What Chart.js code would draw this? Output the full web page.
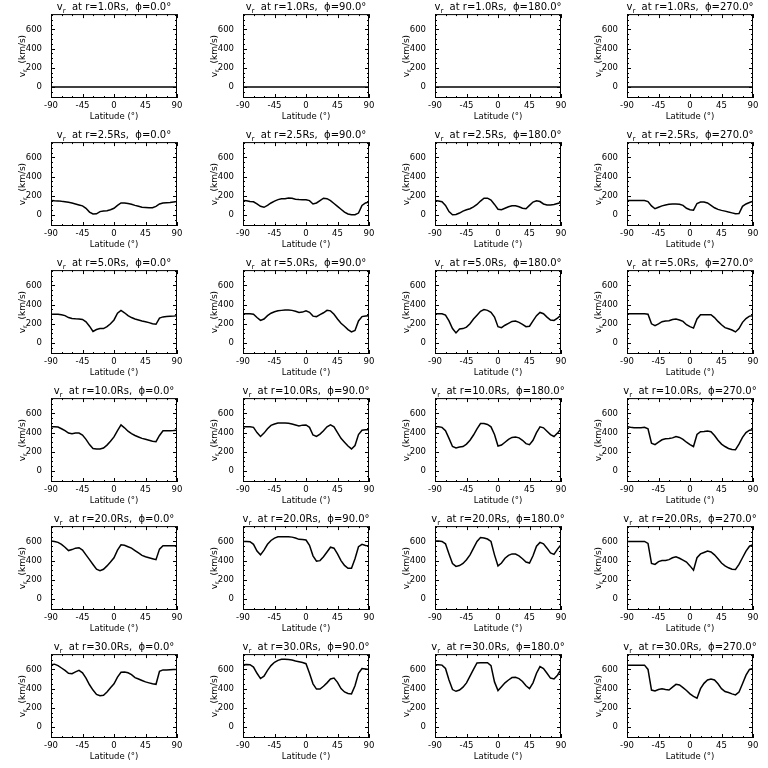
<!DOCTYPE html>
<html>
<head>
<meta charset="utf-8">
<script src="https://cdn.jsdelivr.net/npm/chart.js@4/dist/chart.umd.min.js"></script>
<style>
  body { margin: 0; background: #fff; }
  #grid { display: grid; grid-template-columns: repeat(4, 192px); grid-template-rows: repeat(6, 128px); width: 768px; height: 768px; }
  .cell { width: 192px; height: 128px; }
</style>
</head>
<body>
<div id="grid"></div>
<script>
const lat = [-90,-85,-80,-75,-70,-65,-60,-55,-50,-45,-40,-35,-30,-25,-20,-15,-10,-5,0,5,10,15,20,25,30,35,40,45,50,55,60,65,70,75,80,85,90];
const radii = ['1.0', '2.5', '5.0', '10.0', '20.0', '30.0'];
const phis = ['0.0', '90.0', '180.0', '270.0'];
const xTicks = [-90, -45, 0, 45, 90];
const yTicks = [0, 200, 400, 600];

// r = 1.0 Rs : flat at zero for every phi
const vr_1 = [0,0,0,0,0,0,0,0,0,0,0,0,0,0,0,0,0,0,0,0,0,0,0,0,0,0,0,0,0,0,0,0,0,0,0,0,0];

const vr_2p5_p0   = [150,148,147,142,138,132,125,115,105,95,70,30,10,12,35,42,45,55,70,100,125,125,120,112,100,90,80,78,75,75,90,115,125,128,130,135,140];
const vr_2p5_p90  = [150,148,140,138,115,90,80,100,125,145,160,168,170,178,175,165,162,160,158,150,115,125,150,175,170,150,120,90,60,30,10,2,2,20,100,125,135];
const vr_2p5_p180 = [150,145,138,100,35,2,5,20,40,55,65,85,110,145,175,175,155,110,60,55,70,85,95,95,85,70,65,100,135,148,140,115,105,105,110,120,130];
const vr_2p5_p270 = [150,150,150,150,150,150,140,95,65,80,95,105,112,115,115,112,100,70,55,50,120,135,135,125,100,75,58,48,40,30,22,12,15,90,115,130,145];

const vr_5_p0   = [300,300,300,295,285,265,255,252,250,245,220,175,120,140,150,150,170,200,240,310,340,315,285,265,250,240,230,222,212,200,195,260,272,275,278,280,285];
const vr_5_p90  = [305,305,305,300,265,235,250,285,310,325,335,340,345,345,340,330,318,322,335,320,280,275,295,315,340,335,300,250,205,175,140,115,130,230,275,282,285];
const vr_5_p180 = [305,305,305,290,230,150,105,145,150,165,200,250,290,330,348,340,320,270,170,160,185,205,225,228,215,195,170,175,230,285,318,305,270,240,235,260,290];
const vr_5_p270 = [305,305,305,305,305,305,300,200,180,200,222,228,232,245,250,240,225,190,170,155,250,295,295,295,295,265,225,190,160,148,135,115,150,215,255,280,285];

const vr_10_p0   = [460,460,458,440,420,395,388,395,395,375,330,275,235,230,230,240,270,310,355,420,480,450,415,390,370,355,340,330,320,310,305,370,420,420,420,422,425];
const vr_10_p90  = [460,460,460,455,400,360,395,440,475,490,500,500,500,498,490,480,470,478,480,455,375,360,385,420,460,480,460,400,340,300,260,230,265,380,425,430,430];
const vr_10_p180 = [460,460,455,420,340,255,240,250,255,280,320,375,440,495,495,485,460,380,260,270,300,330,350,355,345,320,285,275,320,400,460,450,415,380,360,395,440];
const vr_10_p270 = [460,455,452,450,452,455,440,290,275,300,325,335,338,345,360,350,330,300,275,255,380,410,412,418,410,370,320,280,255,235,225,222,280,350,400,425,430];

const vr_20_p0   = [605,600,590,570,540,505,515,530,535,510,460,410,360,310,295,310,345,385,430,510,565,560,545,530,505,480,455,440,430,420,410,520,555,555,555,555,555];
const vr_20_p90  = [600,600,598,570,500,460,510,570,610,635,648,650,650,650,645,635,622,620,615,560,450,395,400,440,490,540,530,470,400,350,320,320,420,545,570,558,555];
const vr_20_p180 = [605,605,600,575,470,370,340,348,370,410,460,530,600,640,635,625,600,460,345,375,425,455,470,468,450,420,385,375,450,550,590,575,530,480,465,520,565];
const vr_20_p270 = [600,600,600,600,600,600,580,370,360,390,400,402,410,430,440,425,405,385,345,300,430,470,485,500,490,460,420,375,345,325,310,308,360,430,500,550,565];

const vr_30_p0   = [650,655,640,615,590,560,555,575,590,565,510,440,385,340,325,330,365,410,450,520,570,572,565,545,515,500,485,470,460,450,445,580,595,595,598,600,600];
const vr_30_p90  = [650,652,650,625,560,505,530,590,640,675,695,705,705,703,698,688,680,672,660,560,450,395,395,425,460,500,510,465,400,365,350,345,430,560,610,605,600];
const vr_30_p180 = [650,650,645,610,490,390,372,385,415,460,530,600,668,670,670,670,640,470,380,420,460,490,515,518,505,475,430,400,460,560,630,610,560,510,500,540,600];
const vr_30_p270 = [645,645,645,645,645,645,600,385,375,390,398,390,385,415,445,438,410,380,345,320,300,400,455,490,500,490,450,400,370,360,345,335,365,450,540,600,610];

const panels = [
  [vr_1, vr_1, vr_1, vr_1],
  [vr_2p5_p0, vr_2p5_p90, vr_2p5_p180, vr_2p5_p270],
  [vr_5_p0, vr_5_p90, vr_5_p180, vr_5_p270],
  [vr_10_p0, vr_10_p90, vr_10_p180, vr_10_p270],
  [vr_20_p0, vr_20_p90, vr_20_p180, vr_20_p270],
  [vr_30_p0, vr_30_p90, vr_30_p180, vr_30_p270]
];

const FONT = 'DejaVu Sans';

// text "v" with subscript "r" followed by the rest, centred at x
function subText(ctx, x, y, rest, size) {
  ctx.font = `${size}px ${FONT}`;
  const w1 = ctx.measureText('v').width;
  const w3 = ctx.measureText(rest).width;
  ctx.font = `${size * 0.7}px ${FONT}`;
  const w2 = ctx.measureText('r').width;
  let x0 = x - (w1 + w2 + w3) / 2;
  ctx.textAlign = 'left';
  ctx.font = `${size}px ${FONT}`;
  ctx.fillText('v', x0, y);
  ctx.font = `${size * 0.7}px ${FONT}`;
  ctx.fillText('r', x0 + w1, y + size * 0.25);
  ctx.font = `${size}px ${FONT}`;
  ctx.fillText(rest, x0 + w1 + w2, y);
}

const framePlugin = {
  id: 'frame',
  afterDraw(chart, args, opts) {
    const ctx = chart.ctx;
    const a = chart.chartArea;
    const xs = chart.scales.x, ys = chart.scales.y;
    ctx.save();
    ctx.strokeStyle = '#000';
    ctx.lineWidth = 1;
    ctx.strokeRect(a.left + 0.5, a.top + 0.5, a.right - a.left - 1, a.bottom - a.top - 1);
    ctx.beginPath();
    for (let v = -90; v <= 90; v += 15) {
      const px = Math.round(xs.getPixelForValue(v)) + 0.5;
      const len = v % 45 === 0 ? 4 : 2;
      ctx.moveTo(px, a.bottom); ctx.lineTo(px, a.bottom - len);
      ctx.moveTo(px, a.top); ctx.lineTo(px, a.top + len);
    }
    for (let v = -100; v <= 750; v += 50) {
      const py = Math.round(ys.getPixelForValue(v)) + 0.5;
      const len = v % 200 === 0 ? 4 : 2;
      ctx.moveTo(a.left, py); ctx.lineTo(a.left + len, py);
      ctx.moveTo(a.right, py); ctx.lineTo(a.right - len, py);
    }
    ctx.stroke();
    ctx.fillStyle = '#000';
    ctx.textBaseline = 'alphabetic';
    subText(ctx, (a.left + a.right) / 2, 10, opts.title, 10);
    ctx.translate(23, (a.top + a.bottom) / 2);
    ctx.rotate(-Math.PI / 2);
    ctx.textBaseline = 'middle';
    subText(ctx, 0, 0, '  (km/s)', 9);
    ctx.restore();
  }
};

const grid = document.getElementById('grid');
panels.forEach((row, i) => {
  row.forEach((vals, j) => {
    const cell = document.createElement('div');
    cell.className = 'cell';
    const cv = document.createElement('canvas');
    cv.width = 192; cv.height = 128;
    cell.appendChild(cv);
    grid.appendChild(cell);

    new Chart(cv, {
      type: 'line',
      data: {
        datasets: [{
          data: lat.map((x, k) => ({ x, y: vals[k] })),
          borderColor: '#000',
          borderWidth: 1.5,
          pointRadius: 0,
          tension: 0,
          fill: false
        }]
      },
      options: {
        responsive: false,
        animation: false,
        devicePixelRatio: 1,
        layout: { padding: { top: 14, right: 15, left: 0, bottom: 0 } },
        plugins: {
          legend: { display: false },
          tooltip: { enabled: false },
          frame: { title: `  at r=${radii[i]}Rs,  ϕ=${phis[j]}°` }
        },
        scales: {
          x: {
            type: 'linear', min: -90, max: 90,
            afterBuildTicks: s => { s.ticks = xTicks.map(v => ({ value: v })); },
            afterFit: s => { s.height = 30; },
            grid: { display: false, drawTicks: false },
            border: { display: false },
            ticks: { padding: 3, color: '#000', maxRotation: 0, autoSkip: false, font: { family: FONT, size: 8.5 } },
            title: { display: true, text: 'Latitude (°)', color: '#000', padding: { top: 0, bottom: 6 }, font: { family: FONT, size: 8.5 } }
          },
          y: {
            type: 'linear', min: -115, max: 760,
            afterBuildTicks: s => { s.ticks = yTicks.map(v => ({ value: v })); },
            afterFit: s => { s.width = 51; },
            grid: { display: false, drawTicks: false },
            border: { display: false },
            ticks: { padding: 9, color: '#000', font: { family: FONT, size: 8.5 } }
          }
        }
      },
      plugins: [framePlugin]
    });
  });
});
</script>
</body>
</html>
